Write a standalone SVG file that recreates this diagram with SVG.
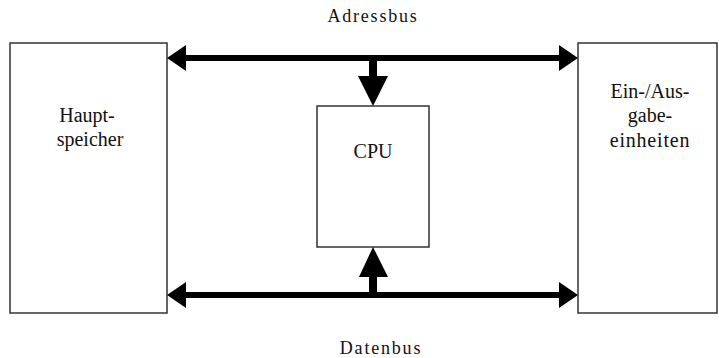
<svg xmlns="http://www.w3.org/2000/svg" width="719" height="358" viewBox="0 0 719 358">
<style>
.box{fill:#fff;stroke:#333;stroke-width:1.5}
.t{font-family:'Liberation Serif','DejaVu Serif','Times New Roman',Times,serif;font-size:20px;fill:#111;text-anchor:middle}
.b{font-size:18px;letter-spacing:1.8px}
.bus{stroke:#000;stroke-width:6;fill:none}
.ah{fill:#000}
</style>
<rect width="719" height="358" fill="#fff"/>
<g id="hauptspeicher">
<rect class="box" x="10" y="43" width="157" height="270"/>
<text class="t" x="87" y="122" font-family="Liberation Serif, serif">Haupt-</text>
<text class="t" x="90" y="146" font-family="Liberation Serif, serif">speicher</text>
</g>
<g id="io">
<rect class="box" x="578" y="43" width="139" height="270"/>
<text class="t" x="650" y="98" font-family="Liberation Serif, serif">Ein-/Aus-</text>
<text class="t" x="650" y="122" font-family="Liberation Serif, serif">gabe-</text>
<text class="t" x="650" y="147" font-family="Liberation Serif, serif" letter-spacing="0.8">einheiten</text>
</g>
<g id="cpu">
<rect class="box" x="317" y="106" width="112" height="141"/>
<text class="t" x="373" y="158" font-family="Liberation Serif, serif">CPU</text>
</g>
<g id="connectors">
<line class="bus" x1="183" y1="58" x2="562" y2="58"/>
<polygon class="ah" points="167,58 186,45 186,71"/>
<polygon class="ah" points="578,58 559,45 559,71"/>
<line x1="373" y1="58" x2="373" y2="78" stroke="#000" stroke-width="8"/>
<polygon class="ah" points="358,76 388,76 373,106"/>
<line class="bus" x1="183" y1="295" x2="562" y2="295"/>
<polygon class="ah" points="167,295 186,282 186,308"/>
<polygon class="ah" points="578,295 559,282 559,308"/>
<line x1="373" y1="295" x2="373" y2="275" stroke="#000" stroke-width="8"/>
<polygon class="ah" points="359,277 388,277 373,247"/>
</g>
<g id="labels">
<text class="t b" x="373" y="22" font-family="Liberation Serif, serif">Adressbus</text>
<text class="t b" x="381" y="354" font-family="Liberation Serif, serif">Datenbus</text>
</g>
</svg>
